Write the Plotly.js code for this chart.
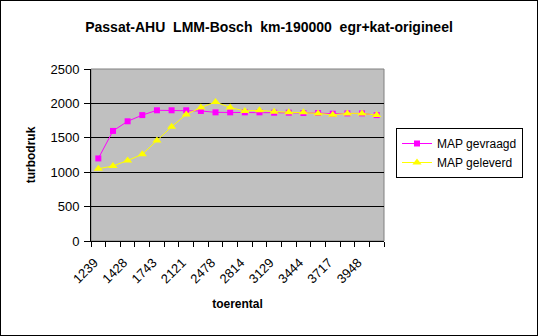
<!DOCTYPE html>
<html><head><meta charset="utf-8">
<script src="https://cdn.plot.ly/plotly-3.0.1.min.js"></script>
<style>
body{margin:0;padding:0;background:#fff;}
#wrap{position:relative;width:538px;height:336px;}
#chart{width:538px;height:336px;}
#frame{position:absolute;left:0;top:0;width:536px;height:334px;border:1px solid #000;pointer-events:none;}
</style></head>
<body>
<div id="wrap"><div id="chart"></div><div id="frame"></div></div>
<script>
const categories = ["1239","1330","1428","1590","1743","1930","2121","2300","2478","2650","2814","2970","3129","3290","3444","3580","3717","3830","3948","4080"];
const mapGevraagd = [1200,1600,1740,1830,1900,1900,1900,1890,1870,1870,1870,1870,1865,1865,1860,1860,1850,1855,1855,1830];
const mapGeleverd = [1050,1090,1170,1260,1460,1660,1840,1940,2020,1940,1890,1900,1880,1870,1870,1855,1835,1855,1855,1830];
const shownLabels = categories.map((c,i)=> i%2===0 ? c : "");

const font = "Liberation Sans, Arial, sans-serif";
const traces = [
  {x: categories, y: mapGevraagd, name: "MAP gevraagd", type: "scatter", mode: "lines+markers",
   line: {color: "#FF00FF", width: 1}, marker: {symbol: "square", size: 6, color: "#FF00FF"}},
  {x: categories, y: mapGeleverd, name: "MAP geleverd", type: "scatter", mode: "lines+markers",
   line: {color: "#FFFF00", width: 1}, marker: {symbol: "triangle-up", size: 8, color: "#FFFF00"}}
];
const layout = {
  width: 538, height: 336,
  margin: {l: 91, r: 154, t: 69, b: 95, pad: 0},
  paper_bgcolor: "#FFFFFF", plot_bgcolor: "#C0C0C0",
  font: {family: font, size: 12, color: "#000"},
  showlegend: true,
  title: {text: "Passat-AHU  LMM-Bosch  km-190000  egr+kat-origineel", font: {family: font, size: 14, color: "#000", weight: "bold"},
          x: 269/538, xref: "container", xanchor: "center", y: 1 - 27/336, yref: "container", yanchor: "middle"},
  xaxis: {type: "category", tickson: "boundaries", tickmode: "array", tickvals: categories, ticktext: shownLabels,
          tickangle: -45, ticks: "outside", ticklen: 5, tickcolor: "#000", showline: true, linecolor: "#000", linewidth: 1,
          showgrid: false, zeroline: false, range: [-0.5, 19.5], tickfont: {family: font, size: 13},
          ticklabelstandoff: 8, ticklabelshift: -4,
          title: {text: "toerental", font: {family: font, size: 12, weight: "bold"}, standoff: 14}},
  yaxis: {range: [0, 2500], dtick: 500, tick0: 0, ticks: "outside", ticklen: 6, tickcolor: "#000",
          showline: true, linecolor: "#000", linewidth: 1, gridcolor: "#000", gridwidth: 1, zeroline: false,
          tickfont: {family: font, size: 13}, ticklabelstandoff: 2,
          title: {text: "turbodruk", font: {family: font, size: 12, weight: "bold"}, standoff: 12}},
  legend: {x: (396-91)/293, xanchor: "left", y: (241-128)/172, yanchor: "top", bgcolor: "#FFFFFF",
           bordercolor: "#000", borderwidth: 1, font: {family: font, size: 12}, tracegroupgap: 0},
  shapes: [{type: "rect", xref: "paper", yref: "paper", x0: 0, x1: 1, y0: 0, y1: 1, line: {color: "#808080", width: 1}, layer: "below"}]
};
Plotly.newPlot("chart", traces, layout, {displayModeBar: false, staticPlot: true});
</script>
</body></html>
